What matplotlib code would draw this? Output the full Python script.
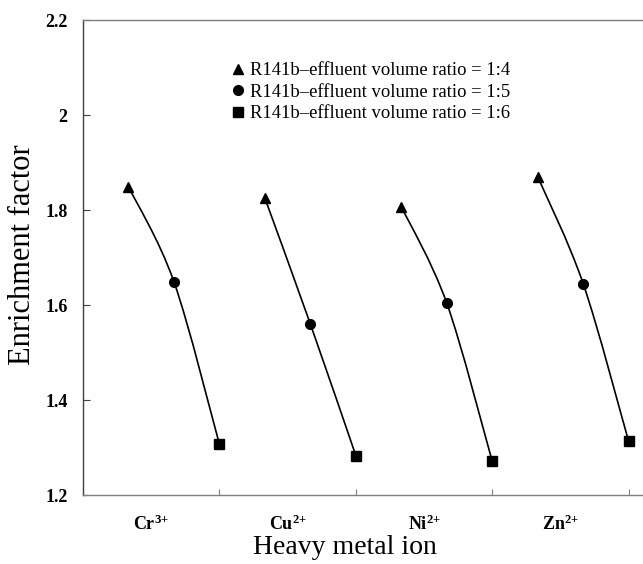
import numpy as np
import matplotlib
matplotlib.use("Agg")
import matplotlib.pyplot as plt
from matplotlib.path import Path
from matplotlib.patches import PathPatch
from matplotlib.ticker import FixedLocator, FuncFormatter

# data
ions = [r"$\mathbf{Cr^{3{+}}}$", r"$\mathbf{Cu^{2{+}}}$", r"$\mathbf{Ni^{2{+}}}$", r"$\mathbf{Zn^{2{+}}}$"]
ratio_1_4 = [1.849, 1.825, 1.807, 1.870]
ratio_1_5 = [1.649, 1.560, 1.604, 1.645]
ratio_1_6 = [1.307, 1.283, 1.271, 1.313]
series_labels = ["R141b\u2013effluent volume ratio = 1:4",
                 "R141b\u2013effluent volume ratio = 1:5",
                 "R141b\u2013effluent volume ratio = 1:6"]

plt.rcParams["font.family"] = ["Liberation Serif", "DejaVu Serif"]
plt.rcParams["mathtext.fontset"] = "custom"
plt.rcParams["mathtext.rm"] = "Liberation Serif"
plt.rcParams["mathtext.bf"] = "Liberation Serif:bold"


def smooth(xs, ys):
    # excel-like smoothed line: bezier segments with catmull-rom control points
    pts = np.column_stack([xs, ys]).astype(float)
    ext = np.vstack([pts[0], pts, pts[-1]])
    verts = [pts[0]]
    codes = [Path.MOVETO]
    for i in range(len(pts) - 1):
        p0, p1, p2, p3 = ext[i], ext[i + 1], ext[i + 2], ext[i + 3]
        c1 = p1 + (p2 - p0) / 6.0
        c2 = p2 - (p3 - p1) / 6.0
        verts += [c1, c2, p2]
        codes += [Path.CURVE4] * 3
    return Path(verts, codes)


fig = plt.figure(figsize=(6.43, 5.64), dpi=100)
ax = fig.add_axes([83 / 643, 69 / 564, 560 / 643, 475 / 564])

n = len(ions)
x_tri = [3 * i + 1 for i in range(n)]
x_cir = [3 * i + 2 for i in range(n)]
x_sq = [3 * i + 3 for i in range(n)]

for i in range(n):
    path = smooth([x_tri[i], x_cir[i], x_sq[i]], [ratio_1_4[i], ratio_1_5[i], ratio_1_6[i]])
    ax.add_patch(PathPatch(path, facecolor="none", edgecolor="black", lw=1.2, zorder=2))

ax.plot(x_tri, ratio_1_4, ls="none", marker="^", ms=7, color="black", label=series_labels[0], zorder=3)
ax.plot(x_cir, ratio_1_5, ls="none", marker="o", ms=7, color="black", label=series_labels[1], zorder=3)
ax.plot(x_sq, ratio_1_6, ls="none", marker="s", ms=6.5, color="black", label=series_labels[2], zorder=3)

ax.set_xlim(0, 560 / 45.47)
ax.set_ylim(1.2, 2.2)

# axes look
ax.spines["right"].set_visible(False)
ax.spines["top"].set_color("#7f7f7f")
ax.spines["bottom"].set_color("#7f7f7f")
ax.spines["left"].set_color("#404040")
for s in ax.spines.values():
    s.set_linewidth(1.0)

ax.set_yticks([1.2, 1.4, 1.6, 1.8, 2.0, 2.2])
ax.yaxis.set_major_formatter(FuncFormatter(lambda v, p: f"{v:g}"))
ax.tick_params(axis="y", direction="in", length=5, color="#404040", pad=11,
               labelsize=13)
for lab in ax.get_yticklabels():
    lab.set_fontweight("bold")

ax.xaxis.set_major_locator(FixedLocator([0, 3, 6, 9, 12]))
ax.xaxis.set_major_formatter(FuncFormatter(lambda v, p: ""))
ax.xaxis.set_minor_locator(FixedLocator([1.5, 4.5, 7.5, 10.5]))
ax.set_xticklabels(ions, minor=True)
ax.tick_params(axis="x", which="major", direction="in", length=4, color="#7f7f7f")
ax.tick_params(axis="x", which="minor", length=0, pad=14, labelsize=13)

ax.set_xlabel("Heavy metal ion", fontsize=20)
ax.xaxis.set_label_coords(0.468, -0.085)
ax.set_ylabel("Enrichment factor", fontsize=22)
ax.yaxis.set_label_coords(-0.083, 0.505)

leg = ax.legend(loc="upper left", bbox_to_anchor=(232 / 643, 1 - 62 / 564),
                bbox_transform=fig.transFigure, frameon=False, fontsize=13.4,
                handlelength=0.6, handletextpad=0.35, labelspacing=0.25,
                borderaxespad=0, borderpad=0, markerscale=1.0)

fig.savefig("out.png", dpi=100)
